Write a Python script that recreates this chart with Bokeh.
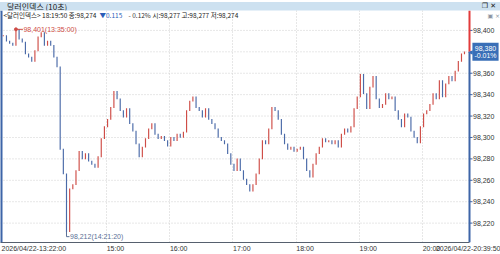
import numpy as np
from bokeh.plotting import figure
from bokeh.models import (Range1d, FixedTicker, CustomJSTickFormatter, Label, Span,
                          Div, ColumnDataSource)
from bokeh.layouts import column
from bokeh.core.properties import value
from bokeh.embed import file_html
from bokeh.resources import INLINE

# ---------------- data ----------------
# minutes after 2026/04/22 13:22:00 ; 3-minute sampling, last point at 20:39:50
minutes = [3 * i for i in range(146)] + [437.83]
closes = [
    98.395, 98.390, 98.388, 98.386, 98.401, 98.392, 98.389, 98.378, 98.375, 98.371,
    98.381, 98.394, 98.398, 98.386, 98.390, 98.386, 98.375, 98.366, 98.289, 98.266,
    98.212, 98.252, 98.256, 98.269, 98.287, 98.280, 98.285, 98.278, 98.275, 98.272,
    98.282, 98.299, 98.310, 98.317, 98.328, 98.343, 98.336, 98.325, 98.319, 98.327,
    98.313, 98.306, 98.294, 98.282, 98.291, 98.299, 98.308, 98.313, 98.303, 98.299,
    98.301, 98.297, 98.292, 98.300, 98.297, 98.303, 98.300, 98.305, 98.325, 98.334,
    98.338, 98.328, 98.325, 98.319, 98.327, 98.317, 98.313, 98.308, 98.300, 98.297,
    98.294, 98.285, 98.275, 98.269, 98.280, 98.269, 98.261, 98.256, 98.250, 98.256,
    98.266, 98.280, 98.297, 98.294, 98.308, 98.328, 98.325, 98.317, 98.303, 98.294,
    98.289, 98.291, 98.287, 98.289, 98.291, 98.280, 98.269, 98.263, 98.275, 98.285,
    98.291, 98.299, 98.296, 98.297, 98.294, 98.297, 98.291, 98.303, 98.308, 98.305,
    98.310, 98.327, 98.338, 98.359, 98.341, 98.327, 98.347, 98.357, 98.336, 98.328,
    98.331, 98.341, 98.336, 98.338, 98.325, 98.317, 98.310, 98.322, 98.319, 98.306,
    98.300, 98.295, 98.310, 98.322, 98.325, 98.331, 98.341, 98.336, 98.353, 98.338,
    98.350, 98.357, 98.353, 98.362, 98.371, 98.378, 98.380,
]

ytick_values = [98.22, 98.24, 98.26, 98.28, 98.30, 98.32, 98.34, 98.36, 98.38, 98.40]
ytick_labels = ["98,220", "98,240", "98,260", "98,280", "98,300",
                "98,320", "98,340", "98,360", "98,380", "98,400"]
hour_minutes = [98, 158, 218, 278, 338, 398]
hour_labels = ["15:00", "16:00", "17:00", "18:00", "19:00", "20:00"]
first_label = "2026/04/22-13:22:00"
last_label = "2026/04/22-20:39:50"
max_label = "98,401(13:35:00)"
min_label = "98,212(14:21:20)"
last_price_label = "98,380\n-0.01%"
header_title = "달러인덱스 (10초)"
info_parts = ["<달러인덱스> 18:19:50 종:98,274", "▼0.115", "- 0.12%",
              "시:98,277 고:98,277 저:98,274"]

# ---------------- styling constants ----------------
RED = "#cf4d47"
BLUE = "#4a6aa8"
AXIS_BLUE = "#3d65a8"
GRID = "#cfcfcf"
TXT = "#333333"
FONT = "Liberation Sans"
KFONT = "Noto Sans CJK KR"

PXM = 1.0533                       # pixels per minute
PXV = 21.5 / 0.02                  # pixels per price unit
X0 = -2.66
X1 = X0 + 500 / PXM
XL = X0 + 469 / PXM                # price axis line position
Y0, Y1 = 98.2019, 98.4186

opens = [closes[0]] + closes[:-1]
eps = 0.4 / PXV
tops = [max(o, c) + eps for o, c in zip(opens, closes)]
bots = [min(o, c) - eps for o, c in zip(opens, closes)]
cols = [RED if c >= o else BLUE for o, c in zip(opens, closes)]
src = ColumnDataSource(dict(m=minutes, top=tops, bottom=bots, color=cols))

p = figure(width=500, height=244, x_range=Range1d(X0, X1), y_range=Range1d(Y0, Y1),
           y_axis_location=None, toolbar_location=None, output_backend="svg",
           min_border_left=0, min_border_right=0, min_border_top=0, min_border_bottom=11)
p.outline_line_color = None
p.background_fill_color = "white"
p.border_fill_color = "white"

# grids
p.ygrid.grid_line_color = None
p.xgrid.ticker = FixedTicker(ticks=hour_minutes)
p.xgrid.grid_line_color = GRID
p.xgrid.grid_line_dash = "1 2"
p.segment(x0=[X0] * len(ytick_values), y0=ytick_values,
          x1=[XL] * len(ytick_values), y1=ytick_values,
          line_color=GRID, line_dash="1 2", line_width=1)

# price scale on the right (inside the frame, drawn through the data scales)
p.segment(x0=[XL] * len(ytick_values), y0=ytick_values,
          x1=[XL + 3 / PXM] * len(ytick_values), y1=ytick_values,
          line_color=AXIS_BLUE, line_width=1)
p.text(x=[XL + 3.5 / PXM] * len(ytick_values), y=ytick_values, text=ytick_labels,
       text_color=TXT, text_font=value(FONT), text_font_size="7px",
       text_baseline="middle", text_align="left")

# x axis (below): labels sit to the right of each hour tick
xlab_pos = [29.0] + [h + 8.5 for h in hour_minutes] + [442.0]
xlab_txt = [first_label] + hour_labels + [last_label]
xa = p.xaxis[0]
xa.bounds = (X0, XL)
xa.ticker = FixedTicker(ticks=xlab_pos)
xa.formatter = CustomJSTickFormatter(args=dict(pos=xlab_pos, txt=xlab_txt),
                                     code="const i = pos.indexOf(tick); return i >= 0 ? txt[i] : '';")
xa.axis_line_color = "#56606e"
xa.major_tick_line_color = None
xa.minor_tick_line_color = None
xa.major_tick_out = 0
xa.major_label_standoff = 2
xa.major_label_text_font = FONT
xa.major_label_text_font_size = "7px"
xa.major_label_text_color = TXT

# candles
p.vbar(x="m", width=1.1, top="top", bottom="bottom", fill_color="color",
       line_color=None, source=src)

# left border
p.add_layout(Span(location=X0, dimension="height", line_color=AXIS_BLUE, line_width=4))

# right price line: red above last price, blue below
last = closes[-1]
p.segment(x0=[XL], y0=[last], x1=[XL], y1=[Y1], line_color="#e23b3b", line_width=2)
p.segment(x0=[XL], y0=[Y0], x1=[XL], y1=[last], line_color=AXIS_BLUE, line_width=2)

# max annotation
imax = int(np.argmax(closes))
mx, vx = minutes[imax], closes[imax]
p.scatter([mx], [vx], size=3, color=RED)
p.segment(x0=[mx], y0=[vx], x1=[mx + 7 / PXM], y1=[vx], line_color=RED, line_width=1)
p.text(x=[mx + 7.5 / PXM], y=[vx], text=[max_label], text_color=RED,
       text_font=value(FONT), text_font_size="7px", text_baseline="middle")

# min annotation
imin = int(np.argmin(closes))
mn, vn = minutes[imin], closes[imin]
MINC = "#5b7096"
p.segment(x0=[mn], y0=[vn], x1=[mn], y1=[vn - 5 / PXV], line_color=MINC, line_width=1)
p.segment(x0=[mn], y0=[vn - 5 / PXV], x1=[mn + 3 / PXM], y1=[vn - 5 / PXV],
          line_color=MINC, line_width=1)
p.text(x=[mn + 3.5 / PXM], y=[vn - 5 / PXV], text=[min_label], text_color=MINC,
       text_font=value(FONT), text_font_size="7px", text_baseline="middle")

# last-price box on the axis
p.add_layout(Label(x=XL, y=last, x_offset=16, text=last_price_label, text_color="white",
                   text_font=FONT, text_font_size="7px", text_align="center",
                   text_baseline="middle", background_fill_color="#3a6fb7",
                   text_line_height=1.0, padding=2))
p.add_layout(Label(x=XL, y=last, x_offset=3, text="◀", text_color="#3a6fb7",
                   text_font="DejaVu Sans", text_font_size="6px", text_align="right",
                   text_baseline="middle"))

# info line at the top of the chart area
yinfo = Y1 - 5 / PXV
info_x = [3, 99, 128, 152]
info_c = ["#222222", "#2a5cb8", "#333333", "#222222"]
for t, xo, c in zip(info_parts, info_x, info_c):
    p.add_layout(Label(x=X0, y=yinfo, x_offset=xo, text=t, text_color=c,
                       text_font=KFONT, text_font_size="6.5px", text_baseline="middle"))
p.add_layout(Label(x=XL, y=yinfo, x_offset=18, text="▣ ×", text_color="#8a939d",
                   text_font="DejaVu Sans", text_font_size="6px", text_baseline="middle"))

# title bar
title = Div(width=500, height=10, margin=(0, 0, 0, 0), text=(
    "<div style=\"position:relative;width:500px;height:10px;background:#cde1f0;"
    "border-bottom:1px solid #a8c3dc;box-sizing:border-box;overflow:hidden;"
    "font-family:'Noto Sans CJK KR';font-size:8px;line-height:9px;color:#222;\">"
    f"<span style=\"position:absolute;left:7px;top:0\">{header_title}</span>"
    "<span style=\"position:absolute;right:4px;top:0;font-family:'DejaVu Sans';"
    "font-size:7px\">❐ ✕</span></div>"))

layout = column(title, p, spacing=0)
open("out.html", "w").write(file_html(layout, INLINE))
